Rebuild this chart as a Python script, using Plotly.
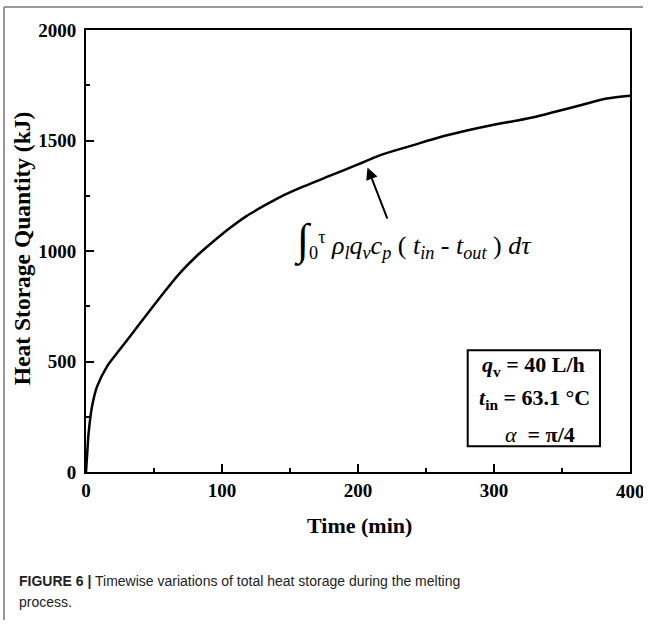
import plotly.graph_objects as go

# Data
time_min = [0, 1.2, 1.9, 4.4, 8.1, 15.4, 25, 35, 45, 57, 69, 81, 94, 106,
            118, 131, 143, 160, 180, 200, 216, 240, 260, 280, 299, 315, 329,
            345, 365, 383, 400]
heat_kj = [0, 114, 175, 295, 386, 477, 555, 635, 715, 810, 900, 975, 1045, 1105,
           1158, 1205, 1245, 1292, 1342, 1392, 1433, 1478, 1515, 1545, 1570, 1588, 1605,
           1630, 1662, 1690, 1703]
x_ticks = [0, 100, 200, 300, 400]
y_ticks = [0, 500, 1000, 1500, 2000]

W, H = 643, 620
L, R, T, B = 86, 630, 30, 471.7
pw, ph = R - L, B - T

def px(x):
    return (x - L) / pw

def py(y):
    return (B - y) / ph

serif = "Liberation Serif, Times New Roman, serif"
tick_font = dict(family=serif, size=19, color="black", weight="bold")
fig = go.Figure()
fig.add_trace(go.Scatter(x=time_min, y=heat_kj, mode="lines",
                         line=dict(color="black", width=2.5, shape="spline", smoothing=0.8),
                         showlegend=False, hoverinfo="skip"))

axis_common = dict(showgrid=False, zeroline=False, showline=True, linecolor="black",
                   linewidth=2, mirror=True, ticks="inside", ticklen=8, tickwidth=1.5,
                   tickcolor="black", tickfont=tick_font)

# the last x label sits at the page edge; it is drawn as an annotation at that tick
x_text = [str(v) for v in x_ticks[:-1]] + [""]
fig.update_xaxes(range=[0, 400], tickvals=x_ticks, ticktext=x_text,
                 minor=dict(ticks="inside", ticklen=4, tickwidth=1.5, tickcolor="black",
                            tick0=0, dtick=50), **axis_common)
fig.update_yaxes(range=[0, 2000], tickvals=y_ticks, ticktext=[str(v) for v in y_ticks],
                 ticklabelstandoff=4,
                 minor=dict(ticks="inside", ticklen=4, tickwidth=1.5, tickcolor="black",
                            tick0=0, dtick=250), **axis_common)

def pann(text, x, y, size, family=serif, color="black", xanchor="center", angle=0):
    return dict(text=text, x=px(x), y=py(y), xref="paper", yref="paper",
                xanchor=xanchor, yanchor="middle", textangle=angle, showarrow=False,
                font=dict(family=family, size=size, color=color))

anns = []
anns.append(dict(text=str(x_ticks[-1]), x=x_ticks[-1], xref="x", y=py(491), yref="paper",
                 xanchor="center", yanchor="middle", showarrow=False, font=tick_font))
# axis titles
anns.append(pann("<b>Heat Storage Quantity (kJ)</b>", 22, 248, 23.5, angle=-90))
anns.append(pann("<b>Time (min)</b>", 359, 525, 22))
# arrow
anns.append(dict(x=207, y=1378, ax=222, ay=1140, xref="x", yref="y", axref="x", ayref="y",
                 text="", showarrow=True, arrowhead=2, arrowsize=1.2, arrowwidth=2,
                 arrowcolor="black"))
# formula
formula = ("<span style='font-size:44px'>∫</span><sub>0</sub><sup>τ</sup> "
           "<i>ρ<sub>l</sub>q<sub>v</sub>c<sub>p</sub></i> ( <i>t<sub>in</sub></i> - "
           "<i>t<sub>out</sub></i> ) <i>dτ</i>")
anns.append(pann(formula, 413, 240, 26))
# parameter box text
anns.append(pann("<b><i>q</i><sub>v</sub> = 40 L/h</b>", 533, 366, 22))
anns.append(pann("<b><i>t</i><sub>in</sub> = 63.1 °C</b>", 534, 399, 22))
anns.append(pann("<i>α</i>  <b>= π/4</b>", 540, 434, 22))
# caption
cap_font = "Liberation Sans, Arial, sans-serif"
anns.append(pann("<b>FIGURE 6 |</b> Timewise variations of total heat storage during the melting",
                 17, 581, 14, family=cap_font, color="#222", xanchor="left"))
anns.append(pann("process.", 17, 602, 14, family=cap_font, color="#222", xanchor="left"))

shapes = [
    dict(type="rect", xref="paper", yref="paper", x0=px(467.7), x1=px(600),
         y0=py(446), y1=py(350), line=dict(color="black", width=2)),
    dict(type="line", xref="paper", yref="paper", x0=px(4), x1=px(649), y0=py(7), y1=py(7),
         line=dict(color="#777", width=1.5)),
    dict(type="line", xref="paper", yref="paper", x0=px(4), x1=px(4), y0=py(7), y1=py(627),
         line=dict(color="#777", width=1.5)),
]

fig.update_layout(width=W, height=H, margin=dict(l=L, r=W - R, t=T, b=H - B),
                  paper_bgcolor="white", plot_bgcolor="white",
                  annotations=anns, shapes=shapes, showlegend=False)
fig.write_html("out.html")
